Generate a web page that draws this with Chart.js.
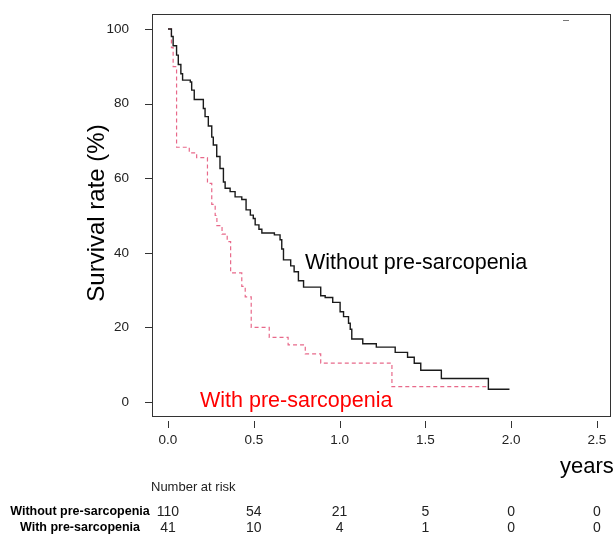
<!DOCTYPE html>
<html>
<head>
<meta charset="utf-8">
<script src="https://cdn.jsdelivr.net/npm/chart.js@4.4.1/dist/chart.umd.min.js"></script>
<style>
  html, body { margin: 0; padding: 0; background: #fff; }
  canvas { display: block; }
</style>
</head>
<body>
<canvas id="kmChart" width="614" height="537"></canvas>
<script>
// Kaplan-Meier curves, values (time in years, survival in %)
const withoutTimes = [0, 0.02, 0.03, 0.05, 0.06, 0.075, 0.085, 0.13, 0.138, 0.153, 0.206, 0.216, 0.235, 0.255, 0.264, 0.284, 0.303, 0.323, 0.333, 0.362, 0.391, 0.43, 0.455, 0.48, 0.497, 0.508, 0.53, 0.547, 0.62, 0.653, 0.663, 0.673, 0.715, 0.735, 0.76, 0.79, 0.89, 0.916, 0.96, 1.003, 1.023, 1.052, 1.062, 1.071, 1.135, 1.214, 1.324, 1.396, 1.435, 1.473, 1.593, 1.867, 1.99];
const withoutSurv = [100, 98, 95.5, 93, 90.5, 88, 86.3, 85.8, 83.6, 81.1, 78.7, 76.5, 74, 71, 68.9, 65.8, 62.6, 59, 57.3, 56.4, 55, 54.3, 51.5, 50.1, 49.2, 47.5, 46.3, 45.3, 44.8, 43.5, 41, 38.1, 36.5, 34.9, 32.5, 30.8, 28.5, 28, 26.7, 24.2, 22.9, 21.1, 19.5, 16.9, 15.6, 14.7, 13.3, 12, 10.4, 8.5, 6.3, 3.4, 3.4];

const withTimes = [0, 0.02, 0.03, 0.05, 0.124, 0.167, 0.23, 0.255, 0.275, 0.285, 0.315, 0.345, 0.365, 0.43, 0.45, 0.485, 0.59, 0.70, 0.80, 0.89, 1.305, 1.867];
const withSurv = [100, 95, 89.9, 68.3, 66.8, 65.5, 58.6, 53, 50, 47.3, 45, 43, 34.6, 31, 28.2, 20, 17.3, 15.3, 12.9, 10.4, 4.1, 4.1];

const xTicks = [0, 0.5, 1.0, 1.5, 2.0, 2.5];
const xTickLabels = ['0.0', '0.5', '1.0', '1.5', '2.0', '2.5'];
const yTicks = [0, 20, 40, 60, 80, 100];

const riskWithout = [110, 54, 21, 5, 0, 0];
const riskWith = [41, 10, 4, 1, 0, 0];

const FONT = '"Liberation Sans", Arial, Helvetica, sans-serif';

function toPoints(times, surv) {
    return times.map(function(t, i) { return { x: t, y: surv[i] }; });
}

// frame, axes, annotations and number-at-risk table
const extras = {
    id: 'extras',
    afterDraw: function(chart) {
        const ctx = chart.ctx;
        const a = chart.chartArea;
        const x = chart.scales.x;
        const y = chart.scales.y;
        ctx.save();

        ctx.strokeStyle = '#333';
        ctx.lineWidth = 1;
        ctx.strokeRect(a.left + 0.5, a.top + 0.5, a.right - a.left - 1, a.bottom - a.top - 1);

        ctx.beginPath();
        xTicks.forEach(function(v) {
            const px = Math.round(x.getPixelForValue(v)) + 0.5;
            ctx.moveTo(px, a.bottom + 4);
            ctx.lineTo(px, a.bottom + 11);
        });
        yTicks.forEach(function(v) {
            const py = Math.round(y.getPixelForValue(v)) + 0.5;
            ctx.moveTo(a.left - 7, py);
            ctx.lineTo(a.left, py);
        });
        ctx.stroke();

        // little mark top right
        ctx.strokeStyle = '#777';
        ctx.beginPath();
        ctx.moveTo(563, 20.5);
        ctx.lineTo(569, 20.5);
        ctx.stroke();

        // tick labels
        ctx.fillStyle = '#222';
        ctx.font = '13.5px ' + FONT;
        ctx.textBaseline = 'middle';
        ctx.textAlign = 'center';
        xTicks.forEach(function(v, i) {
            ctx.fillText(xTickLabels[i], x.getPixelForValue(v), 440);
        });
        ctx.textAlign = 'right';
        yTicks.forEach(function(v) {
            ctx.fillText(String(v), 129, y.getPixelForValue(v));
        });

        ctx.textAlign = 'left';
        ctx.fillStyle = '#000';
        ctx.font = '21.5px ' + FONT;
        ctx.fillText('Without pre-sarcopenia', 305, 263);
        ctx.fillStyle = '#ff0000';
        ctx.fillText('With pre-sarcopenia', 200, 401);

        ctx.fillStyle = '#000';
        ctx.font = '22px ' + FONT;
        ctx.fillText('years', 560, 467);

        ctx.save();
        ctx.translate(97, 213);
        ctx.rotate(-Math.PI / 2);
        ctx.textAlign = 'center';
        ctx.font = '24px ' + FONT;
        ctx.fillText('Survival rate (%)', 0, 0);
        ctx.restore();

        ctx.fillStyle = '#222';
        ctx.font = '13px ' + FONT;
        ctx.fillText('Number at risk', 151, 487);

        ctx.textAlign = 'center';
        ctx.fillStyle = '#000';
        ctx.font = 'bold 12.5px ' + FONT;
        ctx.fillText('Without pre-sarcopenia', 80, 512);
        ctx.fillText('With pre-sarcopenia', 80, 528);

        ctx.fillStyle = '#222';
        ctx.font = '14px ' + FONT;
        xTicks.forEach(function(v, i) {
            const px = x.getPixelForValue(v);
            ctx.fillText(String(riskWithout[i]), px, 512);
            ctx.fillText(String(riskWith[i]), px, 528);
        });

        ctx.restore();
    }
};

new Chart(document.getElementById('kmChart').getContext('2d'), {
    type: 'line',
    data: {
        datasets: [
            {
                label: 'Without pre-sarcopenia',
                data: toPoints(withoutTimes, withoutSurv),
                borderColor: '#1a1a1a',
                borderWidth: 1.4,
                stepped: 'before',
                pointRadius: 0,
                fill: false
            },
            {
                label: 'With pre-sarcopenia',
                data: toPoints(withTimes, withSurv),
                borderColor: '#e8698a',
                borderWidth: 1.2,
                borderDash: [4, 3],
                stepped: 'before',
                pointRadius: 0,
                fill: false
            }
        ]
    },
    options: {
        responsive: false,
        animation: false,
        layout: { padding: { top: 14, right: 3, left: 0, bottom: 0 } },
        plugins: {
            legend: { display: false },
            tooltip: { enabled: false }
        },
        scales: {
            x: {
                type: 'linear',
                min: -0.0932,
                max: 2.5816,
                grid: { display: false },
                border: { display: false },
                ticks: { display: false },
                afterFit: function(s) { s.height = 120; }
            },
            y: {
                type: 'linear',
                min: -4.02,
                max: 104.02,
                grid: { display: false },
                border: { display: false },
                ticks: { display: false },
                afterFit: function(s) { s.width = 152; }
            }
        }
    },
    plugins: [extras]
});
</script>
</body>
</html>
